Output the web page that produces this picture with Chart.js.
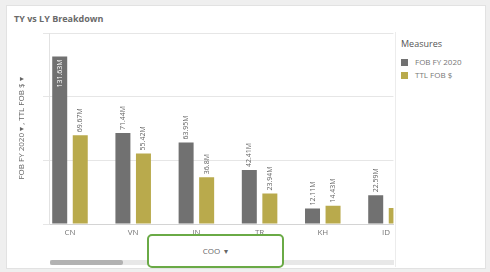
<!DOCTYPE html>
<html>
<head>
<meta charset="utf-8">
<script src="https://cdn.jsdelivr.net/npm/chart.js@4/dist/chart.umd.min.js"></script>
<style>
  html, body { margin: 0; padding: 0; }
  body { width: 490px; height: 272px; background: #efefef; position: relative; overflow: hidden; font-family: "Open Sans", sans-serif; }
  #card { position: absolute; left: 6px; top: 5px; width: 478px; height: 262px; background: #fff; border: 1px solid #e2e2e2; }
  #title { position: absolute; left: 14px; top: 12px; font-size: 9px; font-weight: 700; color: #6a6a6a; }
  #wrap { position: absolute; left: 6px; top: 24px; width: 388px; height: 216px; }
  #legend { position: absolute; left: 395px; top: 32px; width: 88px; height: 235px; background: #fff; border-left: 1px solid #ececec; }
  #legend .head { position: absolute; left: 5px; top: 5px; font-size: 9px; color: #555; }
  #legend .item { position: absolute; left: 5px; font-size: 8px; color: #777; line-height: 10px; }
  #legend .sw { display: inline-block; width: 7px; height: 7px; margin-right: 7px; vertical-align: -1px; }
  #coo { position: absolute; left: 147px; top: 234px; width: 133px; height: 30px; border: 2px solid #6aaa46; border-radius: 5px; background: #fff; font-size: 8px; color: #666; text-align: center; line-height: 30px; }
  #track { position: absolute; left: 50px; top: 260px; width: 344px; height: 5px; background: #e8e8e8; }
  #thumb { position: absolute; left: 0; top: 0; width: 73px; height: 5px; background: #b2b2b2; border-radius: 2px; }
</style>
</head>
<body>
<div id="card"></div>
<div id="title">TY vs LY Breakdown</div>
<div id="wrap"><canvas id="chart"></canvas></div>
<div id="legend">
  <div class="head">Measures</div>
  <div class="item" style="top:25px"><span class="sw" style="background:#717171"></span>FOB FY 2020</div>
  <div class="item" style="top:38px"><span class="sw" style="background:#b9aa4c"></span>TTL FOB $</div>
</div>
<div id="track"><div id="thumb"></div></div>
<div id="coo">COO&nbsp;&nbsp;&#9662;</div>
<script>
const categories = ["CN", "VN", "IN", "TR", "KH", "ID"];
const fobFY2020 = [131.63, 71.44, 63.95, 42.41, 12.11, 22.59];
const ttlFob = [69.67, 55.42, 36.8, 23.94, 14.43, 12.6];
const yTicks = [0, 50, 100, 150];

const grayColor = "#717171";
const oliveColor = "#b9aa4c";

// value labels drawn vertically above each bar
const barLabels = {
  id: "barLabels",
  afterDatasetsDraw(chart) {
    const ctx = chart.ctx;
    const area = chart.chartArea;
    ctx.save();
    ctx.font = "7px 'Open Sans', sans-serif";
    ctx.textBaseline = "middle";
    chart.data.datasets.forEach((ds, di) => {
      chart.getDatasetMeta(di).data.forEach((bar, i) => {
        if (bar.x + 2 > area.right) return;
        const text = `${ds.data[i].y}M`;
        const w = ctx.measureText(text).width;
        ctx.save();
        ctx.translate(bar.x, bar.y);
        ctx.rotate(-Math.PI / 2);
        if (bar.y - w - 4 < area.top) {
          ctx.fillStyle = "#ffffff";
          ctx.textAlign = "right";
          ctx.fillText(text, -3, 0);
        } else {
          ctx.fillStyle = "#666666";
          ctx.textAlign = "left";
          ctx.fillText(text, 3, 0);
        }
        ctx.restore();
      });
    });
    ctx.restore();
  }
};

new Chart(document.getElementById("chart"), {
  type: "bar",
  data: {
    datasets: [
      { label: "FOB FY 2020", data: fobFY2020.map((v, i) => ({ x: i, y: v })), backgroundColor: grayColor },
      { label: "TTL FOB $", data: ttlFob.map((v, i) => ({ x: i, y: v })), backgroundColor: oliveColor }
    ]
  },
  options: {
    responsive: true,
    maintainAspectRatio: false,
    devicePixelRatio: 1,
    animation: false,
    categoryPercentage: 0.65,
    barPercentage: 0.73,
    layout: { padding: { top: 9, left: 0, right: 0, bottom: 0 } },
    plugins: { legend: { display: false }, tooltip: { enabled: false } },
    scales: {
      x: {
        type: "linear",
        offset: false,
        min: -0.332,
        max: 5.118,
        grid: { display: false, drawTicks: false, offset: false },
        border: { display: true, color: "#d4d4d4" },
        ticks: {
          stepSize: 1,
          includeBounds: false,
          autoSkip: false,
          maxRotation: 0,
          padding: 4,
          color: "#777",
          font: { family: "'Open Sans', sans-serif", size: 8 },
          callback: v => Number.isInteger(v) ? categories[v] : ""
        },
        afterFit: s => { s.height = 16; }
      },
      y: {
        min: yTicks[0],
        max: yTicks[yTicks.length - 1],
        afterBuildTicks: s => { s.ticks = yTicks.map(v => ({ value: v })); },
        ticks: { display: false },
        grid: { color: "#e6e6e6", tickLength: 6, drawTicks: true },
        border: { display: true, color: "#e2e2e2" },
        title: {
          display: true,
          text: "FOB FY 2020 \u25BE , TTL FOB $ \u25BE",
          color: "#666",
          font: { family: "'Open Sans', sans-serif", size: 8 },
          padding: { top: 11, bottom: 0 }
        },
        afterFit: s => { s.width = 43; }
      }
    }
  },
  plugins: [barLabels]
});
</script>
</body>
</html>
